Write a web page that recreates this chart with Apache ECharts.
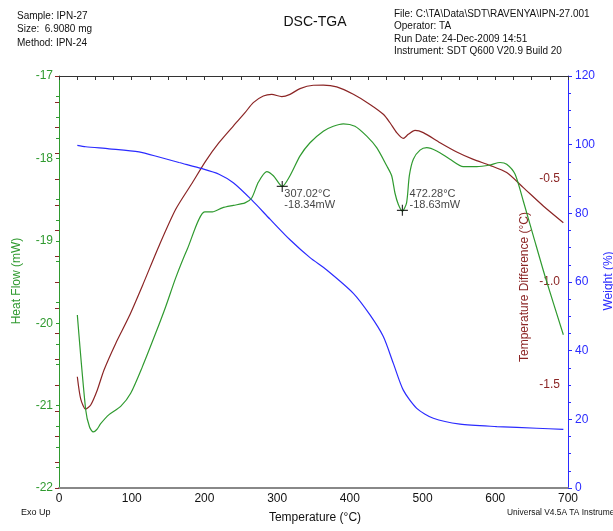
<!DOCTYPE html>
<html><head><meta charset="utf-8">
<script src="https://cdn.jsdelivr.net/npm/echarts@6/dist/echarts.min.js"></script>
<style>html,body{margin:0;padding:0;background:#fff}#c{width:613px;height:531px}</style>
</head><body><div id="c"></div>
<script>
// Heat flow (mW) vs temperature (°C)
const hfTemp = [25.2, 36.7, 42, 47.2, 52, 57.3, 68.8, 84.8, 98.6, 114.6, 133, 146.7, 160.5, 176.5, 200.4, 210.9, 224.6, 239.7, 255.8, 265, 274.1, 285.6, 294.8, 307.0, 317.7, 331.5, 345.2, 363.5, 377.3, 391, 407, 423.2, 436.9, 450.7, 457.5, 462, 466.7, 472.3, 478, 481.8, 487.3, 496.5, 505.7, 519.4, 537.7, 556, 574.4, 592.8, 606.5, 615.7, 627.1, 638.6, 652.3, 668.4, 693.6];
const hfValue = [-19.90, -21.05, -21.26, -21.32, -21.29, -21.22, -21.11, -21.01, -20.85, -20.53, -20.12, -19.80, -19.45, -19.10, -18.65, -18.65, -18.60, -18.57, -18.54, -18.48, -18.29, -18.16, -18.21, -18.34, -18.21, -17.97, -17.81, -17.67, -17.61, -17.58, -17.61, -17.73, -17.87, -18.09, -18.21, -18.42, -18.56, -18.64, -18.54, -18.21, -18.01, -17.90, -17.87, -17.91, -18.01, -18.10, -18.10, -18.08, -18.05, -18.07, -18.19, -18.52, -18.94, -19.43, -20.14];
// Temperature difference (°C)
const tdTemp = [25.2, 30, 36.7, 43.6, 52.7, 61.9, 78, 96.3, 114.6, 137.5, 160.5, 183.4, 201.7, 220, 239.7, 255.8, 267.2, 281, 292.5, 306.3, 317.7, 331.5, 349.8, 363.5, 381.9, 404.8, 427.7, 446, 455.2, 464.4, 473.5, 480.4, 489.6, 501, 524, 547, 569.8, 592.8, 615.7, 638.6, 666, 693.6];
const tdValue = [-1.46, -1.57, -1.617, -1.597, -1.524, -1.427, -1.298, -1.168, -1.019, -0.825, -0.647, -0.518, -0.413, -0.324, -0.243, -0.178, -0.129, -0.097, -0.089, -0.100, -0.089, -0.061, -0.045, -0.044, -0.053, -0.089, -0.138, -0.186, -0.227, -0.275, -0.303, -0.283, -0.264, -0.275, -0.324, -0.369, -0.405, -0.434, -0.469, -0.542, -0.631, -0.712];
// Weight (%)
const wTemp = [25.2, 36.7, 68.8, 110, 137.5, 165, 197, 220, 239.7, 265, 290.2, 317.7, 345.2, 368.2, 404.8, 427.7, 446, 459.8, 473.5, 492, 514.8, 551.5, 602, 657, 693.6];
const wValue = [99.8, 99.4, 98.8, 97.9, 96.4, 94.8, 93.0, 91.4, 88.9, 83.9, 78.3, 72.3, 67.1, 63.5, 56.7, 50.4, 44.1, 36.3, 28.5, 23.2, 20.3, 18.6, 17.9, 17.4, 17.1];
// Annotated heat-flow minima
const peakTemp = [307.02, 472.28];
const peakValue = [-18.34, -18.63];
// Tick label sets
const tdLabels = [-0.5, -1.0, -1.5];

const GREEN = '#2f9a2f', RED = '#8b2525', BLUE = '#2b2bff';
const FONT = 'Liberation Sans, Arial, sans-serif';
const zip = (a, b) => a.map((v, i) => [v, b[i]]);

const chart = echarts.init(document.getElementById('c'), null, {renderer: 'canvas'});
chart.setOption({
  animation: false,
  textStyle: {fontFamily: FONT},
  grid: {left: 59, right: 45, top: 76, bottom: 43},
  graphic: [
    {type: 'text', left: 17, top: 9, style: {text: 'Sample: IPN-27\nSize:  6.9080 mg\nMethod: IPN-24', font: '10px ' + FONT, lineHeight: 13.5, fill: '#111'}},
    {type: 'text', left: 394, top: 8, style: {text: 'File: C:\\TA\\Data\\SDT\\RAVENYA\\IPN-27.001\nOperator: TA\nRun Date: 24-Dec-2009 14:51\nInstrument: SDT Q600 V20.9 Build 20', font: '10px ' + FONT, lineHeight: 12.4, fill: '#111'}},
    {type: 'text', x: 315, y: 22, style: {text: 'DSC-TGA', font: '14px ' + FONT, fill: '#111', align: 'center', verticalAlign: 'middle'}},
    {type: 'text', x: 315, y: 518, style: {text: 'Temperature (°C)', font: '12px ' + FONT, fill: '#111', align: 'center', verticalAlign: 'middle'}},
    {type: 'text', x: 21, y: 513, style: {text: 'Exo Up', font: '9px ' + FONT, fill: '#111', verticalAlign: 'middle'}},
    {type: 'text', x: 507, y: 513, style: {text: 'Universal V4.5A TA Instruments', font: '8.4px ' + FONT, fill: '#111', verticalAlign: 'middle'}},
    {type: 'text', x: 17, y: 281, rotation: Math.PI / 2, style: {text: 'Heat Flow (mW)', font: '12px ' + FONT, fill: GREEN, align: 'center', verticalAlign: 'middle'}},
    {type: 'text', x: 525, y: 287, rotation: Math.PI / 2, style: {text: 'Temperature Difference (°C)', font: '12px ' + FONT, fill: RED, align: 'center', verticalAlign: 'middle'}},
    {type: 'text', x: 609, y: 281, rotation: Math.PI / 2, style: {text: 'Weight (%)', font: '12px ' + FONT, fill: BLUE, align: 'center', verticalAlign: 'middle'}}
  ],
  xAxis: [
    {type: 'value', min: 0, max: 700, interval: 100, position: 'bottom',
     axisLine: {lineStyle: {color: '#333', width: 1}},
     axisTick: {length: 4, lineStyle: {color: '#333'}},
     minorTick: {show: true, splitNumber: 4, length: 4, lineStyle: {color: '#333'}},
     axisLabel: {color: '#111', fontSize: 12, margin: 5},
     splitLine: {show: false}},
    {type: 'value', min: 0, max: 700, position: 'top',
     axisLine: {show: true, lineStyle: {color: '#888', width: 2}},
     axisTick: {show: false}, axisLabel: {show: false}, splitLine: {show: false}}
  ],
  yAxis: [
    {type: 'value', min: -22, max: -17, interval: 1, position: 'left',
     axisLine: {show: true, lineStyle: {color: GREEN}},
     axisTick: {show: true, length: 3, lineStyle: {color: GREEN}},
     minorTick: {show: true, splitNumber: 4, length: 3, lineStyle: {color: GREEN}},
     axisLabel: {color: GREEN, fontSize: 12, margin: 6},
     splitLine: {show: false}},
    {type: 'value', min: -2, max: 0, interval: 0.125, position: 'right',
     axisLine: {show: false},
     axisTick: {show: true, inside: true, length: 4, lineStyle: {color: RED}},
     minorTick: {show: false},
     axisLabel: {inside: true, color: RED, fontSize: 12, margin: 8, showMinLabel: true, showMaxLabel: true,
       formatter: v => tdLabels.some(t => Math.abs(t - v) < 1e-6) ? v.toFixed(1) : ''},
     splitLine: {show: false}},
    {type: 'value', min: 0, max: 120, interval: 20, position: 'right',
     axisLine: {show: true, lineStyle: {color: BLUE}},
     axisTick: {show: true, length: 4, lineStyle: {color: BLUE}},
     minorTick: {show: true, splitNumber: 4, length: 3, lineStyle: {color: BLUE}},
     axisLabel: {color: BLUE, fontSize: 12, margin: 7},
     splitLine: {show: false}}
  ],
  series: [
    {type: 'line', name: 'Heat Flow', xAxisIndex: 0, yAxisIndex: 0, data: zip(hfTemp, hfValue),
     showSymbol: false, smooth: 0.25, lineStyle: {color: GREEN, width: 1.2}, z: 3},
    {type: 'line', name: 'Temperature Difference', xAxisIndex: 0, yAxisIndex: 1, data: zip(tdTemp, tdValue),
     showSymbol: false, smooth: 0.25, lineStyle: {color: RED, width: 1.2}, z: 2},
    {type: 'line', name: 'Weight', xAxisIndex: 0, yAxisIndex: 2, data: zip(wTemp, wValue),
     showSymbol: false, smooth: 0.25, lineStyle: {color: BLUE, width: 1.2}, z: 2},
    {type: 'scatter', xAxisIndex: 0, yAxisIndex: 0, data: zip(peakTemp, peakValue),
     symbol: 'path://M0,6L12,6M6,0L6,12', symbolSize: 11,
     itemStyle: {color: 'rgba(0,0,0,0)', borderColor: '#000', borderWidth: 1.2}, z: 5,
     label: {show: true, position: 'right', color: '#111', fontSize: 11, lineHeight: 11, align: 'left', verticalAlign: 'middle',
       formatter: p => p.value[0].toFixed(2) + '°C\n' + p.value[1].toFixed(2) + 'mW'},
     labelLayout: p => p.dataIndex === 0 ? {dx: -9, dy: 13} : {dx: -4, dy: -11}}
  ]
});
</script></body></html>
